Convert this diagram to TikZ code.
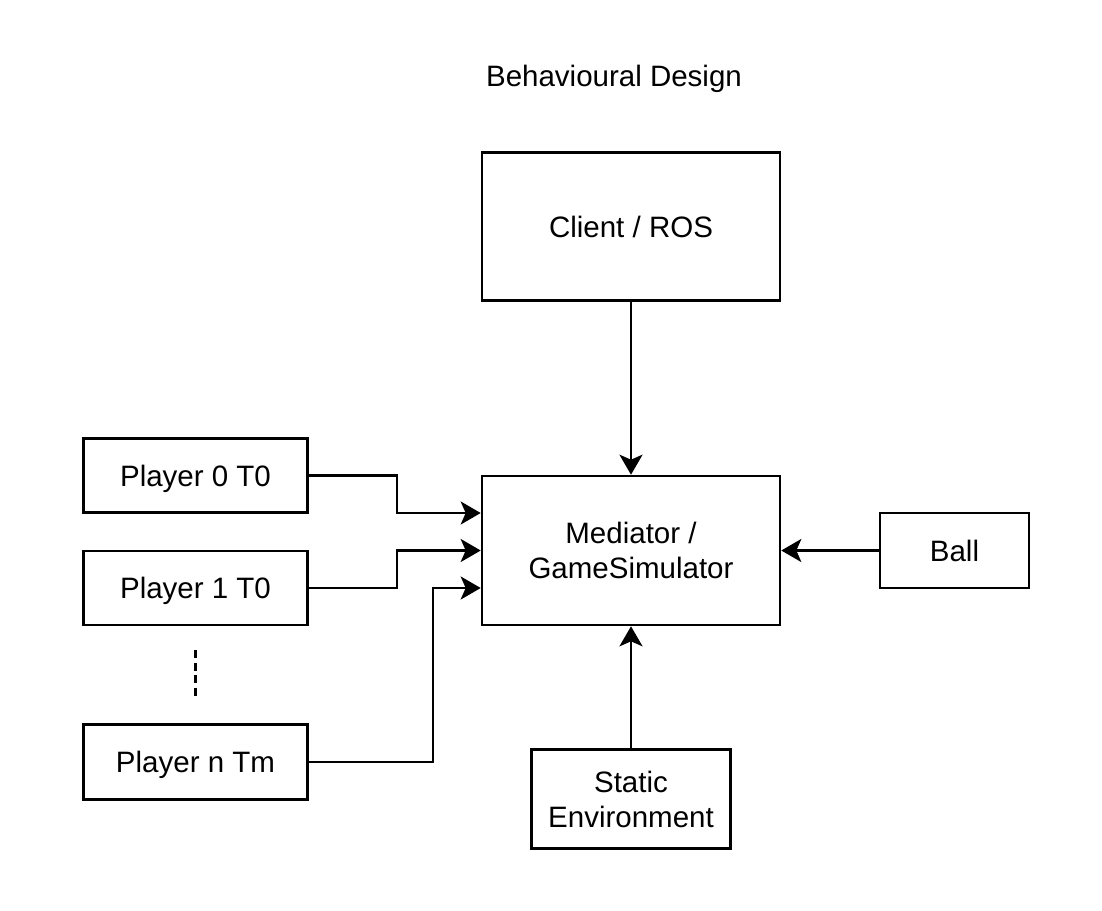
\documentclass[tikz,border=0pt]{standalone}
\usepackage{fontspec}
\setmainfont{Liberation Sans}
\usetikzlibrary{arrows.meta}
\newcommand{\dfont}{\fontsize{29.5}{35}\selectfont}
\tikzset{
  box/.style={draw, line width=2.6pt, inner sep=0pt, align=center, font=\dfont},
  pbox/.style={box, minimum width=224pt, text depth=0pt},
  arr/.style={line width=2.6pt, -{Stealth[length=20pt,width=23pt,inset=5pt]}},
  conn/.style={line width=2.6pt}
}
\begin{document}
\begin{tikzpicture}[x=1pt,y=-1pt]
\useasboundingbox (0,0) rectangle (1102,910);
\node[font=\dfont, anchor=base] (title) at (614,86.7) {Behavioural Design};
\node[box, minimum width=298pt, minimum height=148pt] (client) at (631,226.7) {Client / ROS};
\node[box, minimum width=298pt, minimum height=149pt] (med) at (631,550.5) {Mediator /\\GameSimulator};
\node[box, minimum width=149pt, minimum height=75pt] (ball) at (954.5,550.5) {Ball};
\node[box, minimum width=199pt, minimum height=99pt] (stat) at (631,799) {Static\\Environment};
\node[pbox, minimum height=74pt] (p0) at (195.5,475.5) {Player 0 T0};
\node[pbox, minimum height=74pt] (p1) at (195.5,588) {Player 1 T0};
\node[pbox, minimum height=75pt] (pn) at (195.5,762) {Player n Tm};
\coordinate (d1) at (195.5,650);
\coordinate (d2) at (195.5,700);
\draw[arr] (client.south) -- (med.north);
\draw[arr] (p0.east) -- ++(88,0) |- ([yshift=37.5pt]med.west);
\draw[arr] (p1.east) -- ++(88,0) |- (med.west);
\draw[arr] (pn.east) -- ++(124,0) |- ([yshift=-37.5pt]med.west);
\draw[arr] (ball.west) -- (med.east);
\draw[arr] (stat.north) -- (med.south);
\draw[conn, dash pattern=on 8pt off 4.5pt] (d1) -- (d2);
\end{tikzpicture}
\end{document}
